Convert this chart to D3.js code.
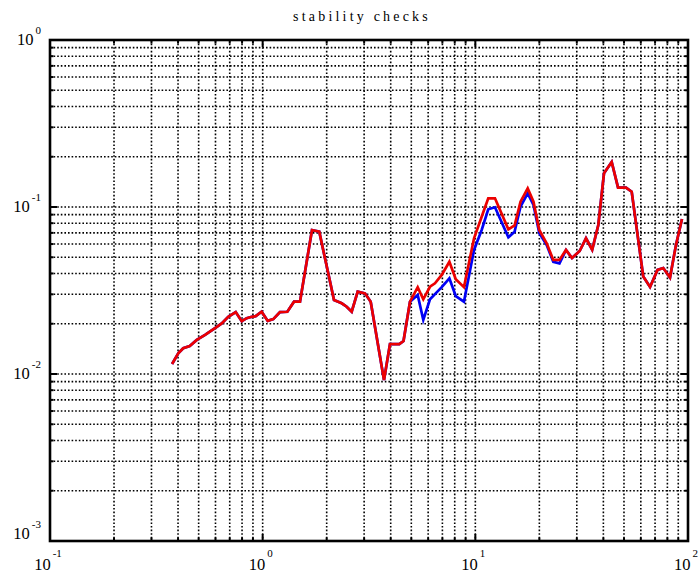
<!DOCTYPE html>
<html>
<head>
<meta charset="utf-8">
<script src="https://cdn.jsdelivr.net/npm/d3@7"></script>
<style>
  html, body { margin: 0; padding: 0; background: #fff; }
  #chart { width: 700px; height: 574px; }
</style>
</head>
<body>
<div id="chart"></div>
<script>
// Données
const freq = [0.375, 0.401, 0.423, 0.454, 0.490, 0.536, 0.597, 0.642, 0.689, 0.747,
  0.797, 0.841, 0.888, 0.927, 0.989, 1.056, 1.122, 1.206, 1.306, 1.404,
  1.498, 1.706, 1.846, 2.165, 2.353, 2.484, 2.622, 2.798, 3.028, 3.221,
  3.720, 3.969, 4.389, 4.595, 4.93, 5.358, 5.692, 6.12, 6.46, 6.95,
  7.55, 8.09, 8.84, 9.86, 10.71, 11.50, 12.37, 14.30, 15.29, 16.31,
  17.63, 18.77, 19.98, 21.65, 23.26, 24.87, 26.69, 28.48, 30.95, 33.14,
  35.44, 37.87, 40.27, 43.77, 46.89, 51.1, 54.35, 61.6, 66.3, 71.9,
  76.5, 82.3, 87.8, 93.7];

const blueValues = [0.01148, 0.0133, 0.01426, 0.01472, 0.0160, 0.01714, 0.01885, 0.0201, 0.0220, 0.0235,
  0.0207, 0.0216, 0.0220, 0.0222, 0.0236, 0.0208, 0.0213, 0.0235, 0.0236, 0.0271,
  0.0271, 0.0728, 0.0711, 0.0277, 0.0265, 0.0253, 0.0236, 0.0311, 0.0304, 0.0271,
  0.0092, 0.0151, 0.0151, 0.01577, 0.0271, 0.0297, 0.0211, 0.0280, 0.0301, 0.0331,
  0.0374, 0.0293, 0.0271, 0.0553, 0.0728, 0.0969, 0.0996, 0.0659, 0.0711, 0.1004,
  0.1208, 0.1028, 0.0699, 0.0592, 0.0470, 0.0460, 0.0553, 0.0495, 0.0545, 0.0650,
  0.0555, 0.0780, 0.1592, 0.1860, 0.1305, 0.1305, 0.1235, 0.0383, 0.0332, 0.0420,
  0.0431, 0.0378, 0.0592, 0.0848];

const redValues = [0.01148, 0.0133, 0.01426, 0.01472, 0.0160, 0.01714, 0.01885, 0.0201, 0.0220, 0.0235,
  0.0207, 0.0216, 0.0220, 0.0222, 0.0236, 0.0208, 0.0213, 0.0235, 0.0236, 0.0271,
  0.0271, 0.0728, 0.0711, 0.0277, 0.0265, 0.0253, 0.0236, 0.0311, 0.0304, 0.0271,
  0.0092, 0.0151, 0.0151, 0.01577, 0.0271, 0.0331, 0.0280, 0.0333, 0.0349, 0.0392,
  0.0470, 0.0369, 0.0331, 0.0650, 0.0875, 0.1127, 0.1127, 0.0735, 0.0775, 0.1076,
  0.1294, 0.1076, 0.0728, 0.0606, 0.0482, 0.0482, 0.0553, 0.0495, 0.0545, 0.0650,
  0.0555, 0.0780, 0.1592, 0.1860, 0.1305, 0.1305, 0.1235, 0.0383, 0.0332, 0.0420,
  0.0431, 0.0378, 0.0592, 0.0848];

const xExponents = ['-1', '0', '1', '2'];
const yExponents = ['0', '-1', '-2', '-3'];
const title = 'stability checks';

const CONFIG = {
  width: 700, height: 574,
  margin: { top: 40, right: 12, bottom: 33, left: 50 },
  xDomain: [0.1, 100],
  yDomain: [0.001, 1],
  blue: '#0000f5',
  red: '#ec0000',
  font: '"Liberation Serif", "Times New Roman", serif',
};

function drawChart() {
  const { width: W, height: H, margin: m, font } = CONFIG;
  const w = W - m.left - m.right;
  const h = H - m.top - m.bottom;

  const svg = d3.select('#chart').append('svg')
    .attr('width', W).attr('height', H);

  const x = d3.scaleLog().domain(CONFIG.xDomain).range([0, w]);
  const y = d3.scaleLog().domain(CONFIG.yDomain).range([h, 0]);

  const isMajor = d => Math.abs(Math.log10(d) - Math.round(Math.log10(d))) < 1e-9;
  const xt = x.ticks();
  const yt = y.ticks();

  // Titre
  svg.append('text')
    .attr('x', 362).attr('y', 21)
    .attr('text-anchor', 'middle')
    .style('font-family', font).style('font-size', '14px')
    .style('letter-spacing', '3.2px')
    .text(title);

  const g = svg.append('g').attr('transform', `translate(${m.left},${m.top})`);

  // Grille pointillée
  const grid = g.append('g')
    .attr('stroke', '#000').attr('stroke-width', 1.6)
    .attr('stroke-dasharray', '1.6,2');
  grid.selectAll('.gx').data(xt.filter(d => d > CONFIG.xDomain[0] && d < CONFIG.xDomain[1]))
    .join('line')
    .attr('x1', d => x(d)).attr('x2', d => x(d)).attr('y1', 0).attr('y2', h);
  grid.selectAll('.gy').data(yt.filter(d => d > CONFIG.yDomain[0] && d < CONFIG.yDomain[1]))
    .join('line')
    .attr('class', 'gy')
    .attr('y1', d => y(d)).attr('y2', d => y(d)).attr('x1', 0).attr('x2', w);

  // Petites graduations pleines sur les quatre côtés
  const ticks = g.append('g').attr('stroke', '#000').attr('stroke-width', 2);
  const len = d => isMajor(d) ? 7 : 3.5;
  xt.forEach(d => {
    ticks.append('line').attr('x1', x(d)).attr('x2', x(d)).attr('y1', h).attr('y2', h - len(d));
    ticks.append('line').attr('x1', x(d)).attr('x2', x(d)).attr('y1', 0).attr('y2', len(d));
  });
  yt.forEach(d => {
    ticks.append('line').attr('y1', y(d)).attr('y2', y(d)).attr('x1', 0).attr('x2', len(d));
    ticks.append('line').attr('y1', y(d)).attr('y2', y(d)).attr('x1', w).attr('x2', w - len(d));
  });

  // Courbes
  const pts = vals => freq.map((f, i) => ({ f, v: vals[i] }));
  const line = d3.line().x(d => x(d.f)).y(d => y(d.v));
  g.append('path').datum(pts(blueValues))
    .attr('fill', 'none').attr('stroke', CONFIG.blue).attr('stroke-width', 2.7)
    .attr('stroke-linejoin', 'miter').attr('d', line);
  g.append('path').datum(pts(redValues))
    .attr('fill', 'none').attr('stroke', CONFIG.red).attr('stroke-width', 2.7)
    .attr('stroke-linejoin', 'miter').attr('d', line);

  // Cadre
  g.append('rect').attr('width', w).attr('height', h)
    .attr('fill', 'none').attr('stroke', '#000').attr('stroke-width', 2.6);

  // Étiquettes 10^n
  const xMajor = xt.filter(isMajor);
  const yMajor = yt.filter(isMajor).sort((a, b) => b - a);

  xMajor.forEach((d, i) => {
    const t = svg.append('text')
      .attr('x', m.left + x(d) - 2).attr('y', 569.5)
      .attr('text-anchor', 'middle')
      .style('font-family', font).style('font-size', '16.5px');
    t.append('tspan').text('10');
    t.append('tspan').attr('dx', 2).attr('dy', -12.5)
      .style('font-size', '11px').text(xExponents[i]);
  });

  yMajor.forEach((d, i) => {
    const base = Math.min(Math.max(m.top + y(d) + 4.5, m.top - 2.5), m.top + h - 2);
    const t = svg.append('text')
      .attr('x', 41).attr('y', base)
      .attr('text-anchor', 'end')
      .style('font-family', font).style('font-size', '16.5px');
    t.append('tspan').text('10');
    t.append('tspan').attr('dx', 2).attr('dy', -11)
      .style('font-size', '11px').text(yExponents[i]);
  });
}

drawChart();
</script>
</body>
</html>
